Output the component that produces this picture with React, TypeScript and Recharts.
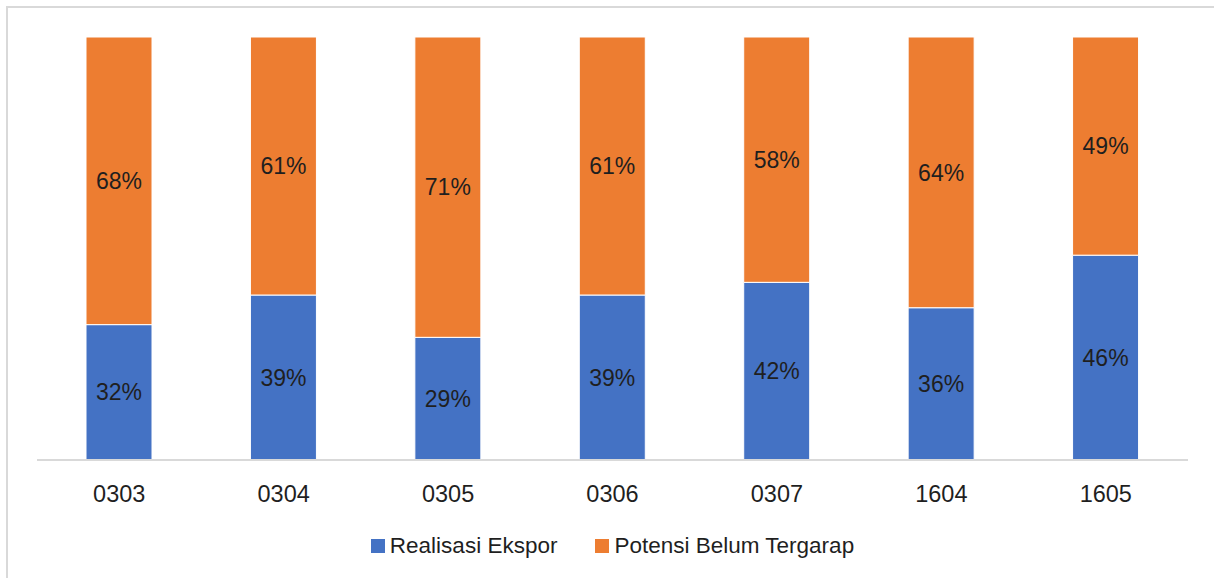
import React from "react";
import { BarChart, Bar, XAxis, YAxis, Legend, LabelList } from "recharts";

// HS codes shown along the category axis
const categories = ["0303", "0304", "0305", "0306", "0307", "1604", "1605"];
// Share of export potential already realised (%)
const realisasiEkspor = [32, 39, 29, 39, 42, 36, 46];
// Share of export potential not yet tapped (%)
const potensiBelumTergarap = [68, 61, 71, 61, 58, 64, 49];

const BLUE = "#4472c4";
const ORANGE = "#ed7d31";
const TEXT = "#1f1f1f";
const FONT = "'Liberation Sans', Arial, sans-serif";

const data = categories.map((kode, i) => ({
  kode,
  realisasi: realisasiEkspor[i],
  potensi: potensiBelumTergarap[i],
}));

const legendItems = [
  { label: "Realisasi Ekspor", color: BLUE },
  { label: "Potensi Belum Tergarap", color: ORANGE },
];

const LegendContent = () => (
  <div
    style={{
      display: "flex",
      justifyContent: "center",
      alignItems: "center",
      gap: 38,
      paddingTop: 9,
      fontFamily: FONT,
      fontSize: 22.5,
      color: TEXT,
    }}
  >
    {legendItems.map((it) => (
      <div key={it.label} style={{ display: "flex", alignItems: "center" }}>
        <span
          style={{
            display: "inline-block",
            width: 14,
            height: 14,
            background: it.color,
            marginRight: 5,
          }}
        />
        <span>{it.label}</span>
      </div>
    ))}
  </div>
);

const pct = (v: any) => `${v}%`;

export default function App() {
  return (
    <div
      style={{
        position: "absolute",
        left: 0,
        top: 0,
        width: 1214,
        height: 578,
        background: "#fff",
        overflow: "hidden",
      }}
    >
      <div
        style={{
          position: "absolute",
          left: 6,
          top: 6,
          width: 1300,
          height: 700,
          borderLeft: "2px solid #d9d9d9",
          borderTop: "2px solid #d9d9d9",
        }}
      />
      <BarChart
        width={1214}
        height={578}
        data={data}
        stackOffset="expand"
        margin={{ top: 37, right: 26, left: 37, bottom: 0 }}
        style={{ position: "absolute", left: 0, top: 0 }}
      >
        <XAxis
          dataKey="kode"
          axisLine={{ stroke: "#d9d9d9", strokeWidth: 2 }}
          tickLine={false}
          height={64}
          tick={{ fill: TEXT, fontSize: 23.5, fontFamily: FONT }}
          tickMargin={19}
        />
        <YAxis hide domain={[0, 1]} />
        <Legend
          verticalAlign="bottom"
          height={54}
          content={<LegendContent />}
        />
        <Bar
          dataKey="realisasi"
          stackId="a"
          fill={BLUE}
          stroke="#fff"
          strokeWidth={1}
          barSize={66}
          isAnimationActive={false}
        >
          <LabelList
            dataKey="realisasi"
            position="center"
            formatter={pct}
            style={{ fill: TEXT, fontSize: 23, fontFamily: FONT }}
          />
        </Bar>
        <Bar
          dataKey="potensi"
          stackId="a"
          fill={ORANGE}
          stroke="#fff"
          strokeWidth={1}
          barSize={66}
          isAnimationActive={false}
        >
          <LabelList
            dataKey="potensi"
            position="center"
            formatter={pct}
            style={{ fill: TEXT, fontSize: 23, fontFamily: FONT }}
          />
        </Bar>
      </BarChart>
    </div>
  );
}
